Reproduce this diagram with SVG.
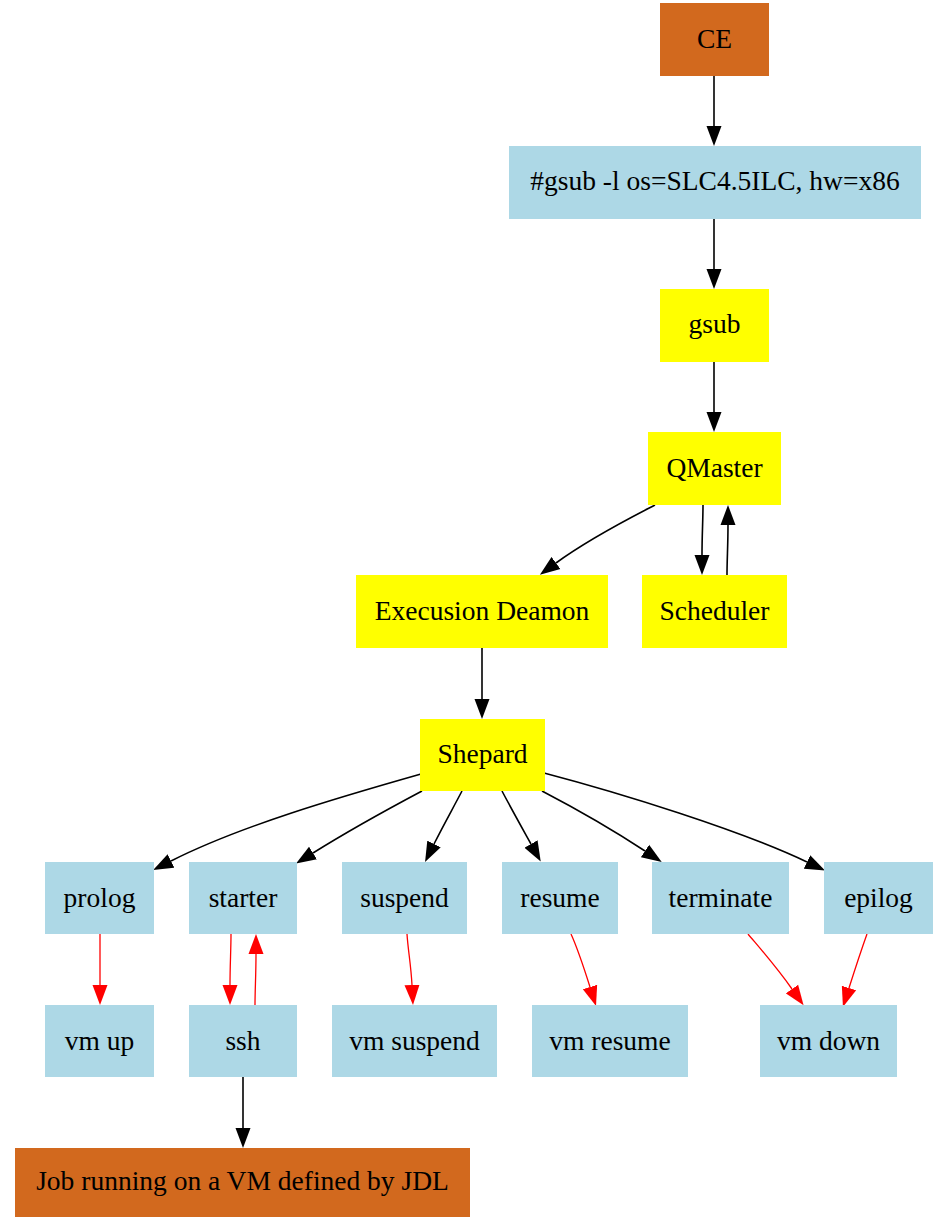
<svg xmlns="http://www.w3.org/2000/svg" width="935" height="1217" viewBox="0 0 935 1217">
<style>
text{font-family:"Liberation Serif","Times New Roman",serif;font-size:27.5px;fill:#000;text-anchor:middle}
.choc{fill:#d2691e}
.blue{fill:#add8e6}
.yel{fill:#ffff00}
.e{fill:none;stroke:#000;stroke-width:1.6;marker-end:url(#ab)}
.r{fill:none;stroke:#ff0000;stroke-width:1.3;marker-end:url(#ar)}
</style>
<defs>
<marker id="ab" markerUnits="userSpaceOnUse" viewBox="0 -8 21 16" refX="0" refY="0" markerWidth="21" markerHeight="16" orient="auto"><path d="M0,-7.5L20,0L0,7.5z" fill="#000"/></marker>
<marker id="ar" markerUnits="userSpaceOnUse" viewBox="0 -8 21 16" refX="0" refY="0" markerWidth="21" markerHeight="16" orient="auto"><path d="M0,-7.5L20,0L0,7.5z" fill="#ff0000"/></marker>
</defs>
<rect width="935" height="1217" fill="#fff"/>
<g id="connectors">
<path class="e" d="M714,76L714,126"/>
<path class="e" d="M714,219L714,269"/>
<path class="e" d="M714,362L714,412"/>
<path class="e" d="M655,505C630,518 590,538 556,563"/>
<path class="e" d="M703,505C703,520 702,535 702,555"/>
<path class="e" d="M727,575C727,560 728,545 728,525"/>
<path class="e" d="M482,648L482,699"/>
<path class="e" d="M421,774C340,797 240,826 171,861"/>
<path class="e" d="M422,791C390,808 345,833 313,853"/>
<path class="e" d="M462,791C452,810 443,826 434,844"/>
<path class="e" d="M502,791C512,810 521,826 531,844"/>
<path class="e" d="M542,791C565,803 610,828 645,851"/>
<path class="e" d="M544,773C620,793 740,830 807,862"/>
<path class="r" d="M100,934L100,985"/>
<path class="r" d="M231,934C231,950 230,965 230,985"/>
<path class="r" d="M255,1005C255,990 256,975 256,954"/>
<path class="r" d="M407,934C408,950 411,965 412,985"/>
<path class="r" d="M571,934C576,945 584,968 590,987"/>
<path class="r" d="M748,934C758,946 775,965 792,989"/>
<path class="r" d="M867,934C862,948 856,966 849,988"/>
<path class="e" d="M243,1077L243,1128"/>
</g>
<g id="CE"><rect class="choc" x="660" y="3" width="109" height="73"/><text x="714.5" y="48">CE</text></g>
<g id="gsubcmd"><rect class="blue" x="509" y="146" width="412" height="73"/><text x="715" y="190">#gsub -l os=SLC4.5ILC, hw=x86</text></g>
<g id="gsub"><rect class="yel" x="660" y="289" width="109" height="73"/><text x="714.5" y="333">gsub</text></g>
<g id="QMaster"><rect class="yel" x="648" y="432" width="133" height="73"/><text x="714.5" y="477">QMaster</text></g>
<g id="ExecDeamon"><rect class="yel" x="356" y="575" width="252" height="73"/><text x="482" y="620">Execusion Deamon</text></g>
<g id="Scheduler"><rect class="yel" x="642" y="575" width="145" height="73"/><text x="714.5" y="620">Scheduler</text></g>
<g id="Shepard"><rect class="yel" x="420" y="719" width="125" height="72"/><text x="482.5" y="763">Shepard</text></g>
<g id="prolog"><rect class="blue" x="45" y="862" width="109" height="72"/><text x="99.5" y="907">prolog</text></g>
<g id="starter"><rect class="blue" x="189" y="862" width="108" height="72"/><text x="243" y="907">starter</text></g>
<g id="suspend"><rect class="blue" x="342" y="862" width="125" height="72"/><text x="404.5" y="907">suspend</text></g>
<g id="resume"><rect class="blue" x="502" y="862" width="116" height="72"/><text x="560" y="907">resume</text></g>
<g id="terminate"><rect class="blue" x="652" y="862" width="137" height="72"/><text x="720.5" y="907">terminate</text></g>
<g id="epilog"><rect class="blue" x="824" y="862" width="109" height="72"/><text x="878.5" y="907">epilog</text></g>
<g id="vmup"><rect class="blue" x="45" y="1005" width="109" height="72"/><text x="99.5" y="1050">vm up</text></g>
<g id="ssh"><rect class="blue" x="189" y="1005" width="108" height="72"/><text x="243" y="1050">ssh</text></g>
<g id="vmsuspend"><rect class="blue" x="332" y="1005" width="165" height="72"/><text x="414.5" y="1050">vm suspend</text></g>
<g id="vmresume"><rect class="blue" x="532" y="1005" width="156" height="72"/><text x="610" y="1050">vm resume</text></g>
<g id="vmdown"><rect class="blue" x="760" y="1005" width="137" height="72"/><text x="828.5" y="1050">vm down</text></g>
<g id="job"><rect class="choc" x="15" y="1148" width="455" height="72"/><text x="242.5" y="1190">Job running on a VM defined by JDL</text></g>
</svg>
